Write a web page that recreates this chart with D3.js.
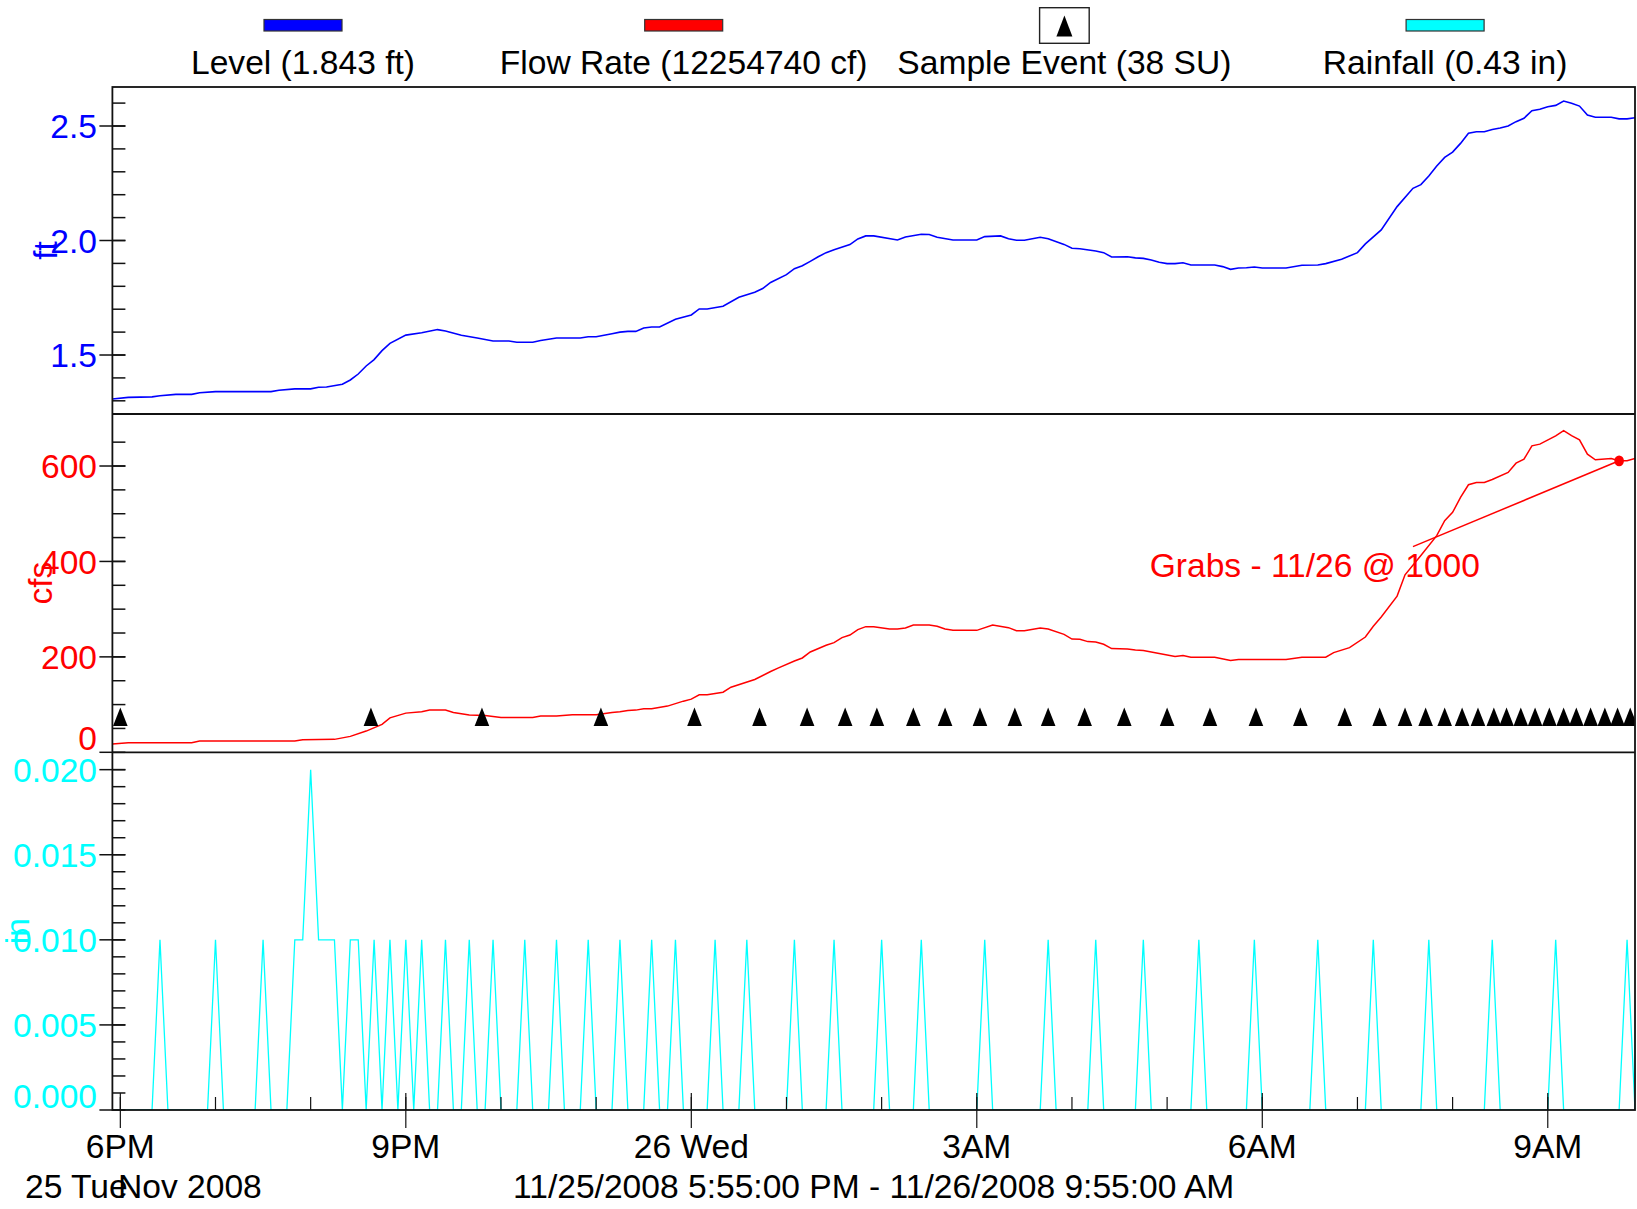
<!DOCTYPE html>
<html><head><meta charset="utf-8">
<script src="https://cdn.jsdelivr.net/npm/d3@7"></script>
<style>
body{margin:0;background:#fff}
text{font-family:"Liberation Sans",Arial,Helvetica,sans-serif}
</style></head>
<body><svg id="c" width="1637" height="1209"></svg>
<script>
// ---------------- DATA ----------------
const startTime = "17:55", endTime = "09:55";
const seriesNames = ["Level (1.843 ft)", "Flow Rate (12254740 cf)", "Sample Event (38 SU)", "Rainfall (0.43 in)"];
const levelData = [
["17:55",1.308],["18:05",1.315],["18:20",1.317],["18:25",1.322],["18:35",1.328],["18:45",1.328],["18:50",1.335],["19:00",1.340],["19:35",1.340],["19:40",1.346],["19:50",1.352],["20:00",1.352],["20:05",1.359],["20:10",1.360],["20:20",1.372],["20:25",1.391],["20:30",1.417],["20:35",1.452],["20:40",1.480],["20:45",1.519],["20:50",1.551],["21:00",1.587],["21:10",1.597],["21:20",1.611],["21:25",1.605],["21:35",1.586],["21:45",1.574],["21:55",1.561],["22:05",1.561],["22:10",1.556],["22:20",1.556],["22:25",1.563],["22:35",1.574],["22:50",1.574],["22:55",1.580],["23:00",1.580],["23:10",1.593],["23:15",1.600],["23:20",1.603],["23:25",1.603],["23:30",1.618],["23:35",1.622],["23:40",1.622],["23:50",1.656],["00:00",1.675],["00:05",1.701],["00:10",1.701],["00:20",1.713],["00:30",1.752],["00:40",1.774],["00:45",1.790],["00:50",1.817],["01:00",1.851],["01:05",1.877],["01:10",1.890],["01:15",1.909],["01:20",1.929],["01:25",1.947],["01:30",1.960],["01:40",1.982],["01:45",2.007],["01:50",2.020],["01:55",2.020],["02:10",2.002],["02:15",2.015],["02:25",2.027],["02:30",2.026],["02:35",2.014],["02:45",2.002],["03:00",2.002],["03:05",2.017],["03:15",2.020],["03:20",2.008],["03:25",2.001],["03:30",2.001],["03:40",2.014],["03:45",2.008],["03:55",1.983],["04:00",1.966],["04:05",1.964],["04:15",1.954],["04:20",1.947],["04:25",1.928],["04:35",1.929],["04:40",1.924],["04:45",1.922],["04:50",1.915],["04:55",1.905],["05:00",1.899],["05:05",1.899],["05:10",1.903],["05:15",1.893],["05:30",1.893],["05:35",1.886],["05:40",1.874],["05:45",1.880],["05:50",1.881],["05:55",1.884],["06:00",1.880],["06:15",1.880],["06:25",1.892],["06:35",1.893],["06:40",1.899],["06:50",1.918],["07:00",1.947],["07:05",1.985],["07:15",2.046],["07:25",2.148],["07:35",2.228],["07:40",2.244],["07:45",2.282],["07:50",2.325],["07:55",2.363],["08:00",2.386],["08:05",2.424],["08:10",2.468],["08:15",2.475],["08:20",2.475],["08:25",2.485],["08:30",2.491],["08:35",2.500],["08:40",2.519],["08:45",2.534],["08:50",2.567],["08:55",2.573],["09:00",2.584],["09:05",2.590],["09:10",2.609],["09:15",2.599],["09:20",2.587],["09:25",2.548],["09:30",2.538],["09:40",2.538],["09:45",2.531],["09:50",2.531],["09:55",2.536]
];
const flowData = [
["17:55",17.3],["18:05",20.1],["18:45",20.0],["18:50",23.6],["19:50",23.6],["19:55",26.4],["20:15",27.1],["20:25",33.4],["20:35",44.5],["20:45",58.5],["20:50",72.3],["21:00",82.1],["21:10",84.8],["21:15",88.4],["21:25",88.4],["21:30",83.6],["21:40",78.0],["21:50",77.3],["22:00",73.1],["22:20",73.1],["22:25",75.9],["22:35",75.9],["22:45",78.6],["23:00",78.6],["23:10",83.6],["23:15",84.8],["23:20",87.8],["23:25",88.4],["23:30",91.1],["23:35",91.1],["23:45",96.8],["23:55",107.2],["00:00",111.4],["00:05",120.4],["00:10",120.4],["00:20",126.0],["00:25",136.5],["00:40",152.6],["00:50",169.3],["00:55",176.8],["01:05",191.4],["01:10",197.7],["01:15",210.2],["01:25",224.2],["01:30",229.9],["01:35",240.3],["01:40",245.8],["01:45",257.0],["01:50",263.3],["01:55",263.3],["02:05",258.3],["02:10",258.3],["02:15",260.4],["02:20",266.7],["02:30",266.7],["02:35",264.0],["02:40",258.3],["02:45",255.6],["03:00",255.6],["03:10",266.7],["03:20",261.2],["03:25",255.0],["03:30",255.0],["03:40",260.4],["03:45",258.3],["03:55",247.2],["04:00",237.4],["04:05",236.8],["04:10",232.0],["04:15",231.1],["04:20",226.3],["04:25",217.3],["04:35",216.5],["04:40",214.4],["04:45",213.2],["04:55",206.9],["05:05",200.6],["05:10",202.7],["05:15",199.2],["05:30",199.2],["05:40",192.3],["05:45",194.4],["06:15",194.4],["06:25",199.2],["06:40",199.2],["06:45",209.0],["06:55",219.4],["07:05",241.6],["07:10",264.0],["07:15",283.4],["07:25",327.3],["07:30",372.0],["07:40",412.3],["07:50",454.1],["07:55",485.5],["08:00",502.8],["08:05",534.2],["08:10",560.7],["08:15",565.5],["08:20",565.5],["08:25",571.8],["08:35",586.4],["08:40",606.0],["08:45",614.4],["08:50",642.2],["08:55",645.8],["09:05",663.1],["09:10",674.2],["09:15",663.7],["09:20",654.8],["09:25",624.9],["09:30",612.9],["09:40",615.7],["09:45",610.9],["09:50",610.9],["09:55",615.7]
];
// rainfall: only non-zero 5-minute readings (all others are 0.000 in)
const rainTimes = ["18:25","19:00","19:30","19:50","19:55","20:00","20:05","20:10","20:15","20:25","20:30","20:40","20:50","21:00","21:10","21:25","21:40","21:55","22:15","22:35","22:55","23:15","23:35","23:50","00:15","00:35","01:05","01:30","02:00","02:25","03:05","03:45","04:15","04:45","05:20","05:55","06:35","07:10","07:45","08:25","09:05","09:50"];
const rainValues = [0.01,0.01,0.01,0.01,0.01,0.02,0.01,0.01,0.01,0.01,0.01,0.01,0.01,0.01,0.01,0.01,0.01,0.01,0.01,0.01,0.01,0.01,0.01,0.01,0.01,0.01,0.01,0.01,0.01,0.01,0.01,0.01,0.01,0.01,0.01,0.01,0.01,0.01,0.01,0.01,0.01,0.01];
const sampleEventTimes = ["18:00","20:38","21:48","23:03","00:02","00:43","01:13","01:37","01:57","02:20","02:40","03:02","03:24","03:45","04:08","04:33","05:00","05:27","05:56","06:24","06:52","07:14","07:30","07:43","07:55","08:06","08:16","08:26","08:34","08:43","08:52","09:01","09:10","09:18","09:27","09:36","09:44","09:52"];
const grabNote = {time:"09:45", value:610.9, lineFromTime:"07:35", lineFromValue:431, labelTime:"04:49", labelValue:367, text:"Grabs - 11/26 @ 1000"};
const levelTicks = [1.5, 2.0, 2.5], levelTickLabels = ["1.5","2.0","2.5"];
const flowTicks = [0, 200, 400, 600], flowTickLabels = ["0","200","400","600"];
const rainTicks = [0, 0.005, 0.010, 0.015, 0.020], rainTickLabels = ["0.000","0.005","0.010","0.015","0.020"];
const xTickLabels = ["6PM","9PM","26 Wed","3AM","6AM","9AM"];
const dayLabel = "25 Tue", monthLabel = "Nov 2008";
const rangeLabel = "11/25/2008 5:55:00 PM - 11/26/2008 9:55:00 AM";

// ---------------- LAYOUT ----------------
const FS = 33.6;
const L = 112.4, R = 1635;
const P = {level:[87,414], flow:[414,752.3], rain:[752.3,1110]};
const COL = {level:"#0000ff", flow:"#ff0000", rain:"#00ffff", frame:"#111"};
const parseT = s => { const [h,m] = s.split(":").map(Number); return new Date(2008, 10, h >= 12 ? 25 : 26, h, m); };

const svg = d3.select("#c");
const x = d3.scaleTime().domain([parseT(startTime), parseT(endTime)]).range([L, R]);
const yL = d3.scaleLinear().domain([1.2424, 2.6703]).range([P.level[1], P.level[0]]);
const yF = d3.scaleLinear().domain([0, 709]).range([P.flow[1], P.flow[0]]);
const yR = d3.scaleLinear().domain([0, 0.02102]).range([P.rain[1], P.rain[0]]);

// rain series at 5-minute steps
const nSteps = Math.round((x.domain()[1] - x.domain()[0]) / 300000);
const rainMap = new Map(rainTimes.map((t,i)=>[+parseT(t), rainValues[i]]));
const rainSeries = d3.range(nSteps + 1).map(i => {
  const t = d3.timeMinute.offset(x.domain()[0], 5*i);
  return [t, rainMap.get(+t) || 0];
});

// clip
svg.append("defs").append("clipPath").attr("id","clip").append("rect")
  .attr("x", L).attr("y", P.level[0]).attr("width", R-L).attr("height", P.rain[1]-P.level[0]);

const g = svg.append("g").attr("clip-path","url(#clip)");
g.append("path").datum(levelData)
  .attr("d", d3.line().x(d=>x(parseT(d[0]))).y(d=>yL(d[1])))
  .attr("fill","none").attr("stroke",COL.level).attr("stroke-width",1.6);
g.append("path").datum(flowData)
  .attr("d", d3.line().x(d=>x(parseT(d[0]))).y(d=>yF(d[1])))
  .attr("fill","none").attr("stroke",COL.flow).attr("stroke-width",1.5);
g.append("path").datum(rainSeries)
  .attr("d", d3.line().x(d=>x(d[0])).y(d=>yR(d[1])))
  .attr("fill","none").attr("stroke",COL.rain).attr("stroke-width",1.3);

// sample events
const evBase = yF(55);
g.selectAll("path.ev").data(sampleEventTimes).join("path").attr("class","ev")
  .attr("transform", d=>`translate(${x(parseT(d))},${evBase})`)
  .attr("d","M0,-18.5L7.3,0L-7.3,0Z").attr("fill","#000");

// grab annotation
const gx = x(parseT(grabNote.time)), gy = yF(grabNote.value);
svg.append("line").attr("x1", x(parseT(grabNote.lineFromTime))).attr("y1", yF(grabNote.lineFromValue))
  .attr("x2", gx).attr("y2", gy).attr("stroke", COL.flow).attr("stroke-width",1.5);
svg.append("ellipse").attr("cx", gx).attr("cy", gy).attr("rx",4.8).attr("ry",5.4).attr("fill",COL.flow);
svg.append("text").attr("x", x(parseT(grabNote.labelTime))).attr("y", yF(grabNote.labelValue))
  .attr("font-size", FS).attr("fill", COL.flow).text(grabNote.text);

// frame
svg.append("rect").attr("x",L).attr("y",P.level[0]).attr("width",R-L).attr("height",P.rain[1]-P.level[0])
  .attr("fill","none").attr("stroke",COL.frame).attr("stroke-width",1.8);
[P.flow[0], P.rain[0]].forEach(yy => svg.append("line").attr("x1",L).attr("x2",R).attr("y1",yy).attr("y2",yy)
  .attr("stroke",COL.frame).attr("stroke-width",1.8));

// y axes
function yAxis(scale, panel, ticks, labels, minor, color, title, titleX) {
  const ax = svg.append("g");
  ax.selectAll("line.mi").data(minor).join("line")
    .attr("x1",L).attr("x2",L+13).attr("y1",d=>scale(d)).attr("y2",d=>scale(d))
    .attr("stroke",COL.frame).attr("stroke-width",1.5);
  ax.selectAll("line.ma").data(ticks).join("line")
    .attr("x1",L-13).attr("x2",L+13).attr("y1",d=>scale(d)).attr("y2",d=>scale(d))
    .attr("stroke",COL.frame).attr("stroke-width",1.5);
  ax.selectAll("text.lb").data(ticks).join("text")
    .attr("x", 97).attr("y", d=>Math.max(panel[0]+14, Math.min(panel[1]-14, scale(d))))
    .attr("dy","0.36em").attr("text-anchor","end").attr("font-size",FS).attr("fill",color)
    .text((d,i)=>labels[i]);
  ax.append("text").attr("transform",`translate(${titleX},${(panel[0]+panel[1])/2}) rotate(-90)`)
    .attr("text-anchor","middle").attr("font-size",FS).attr("fill",color).text(title);
}
yAxis(yL, P.level, levelTicks, levelTickLabels, d3.range(13,27).map(d=>d/10), COL.level, "ft", 57);
yAxis(yF, P.flow, flowTicks, flowTickLabels, d3.range(50,700,50), COL.flow, "cfs", 52);
yAxis(yR, P.rain, rainTicks, rainTickLabels, d3.range(1,21).map(d=>d/1000), COL.rain, "in", 28.5);

// x axis
const majors = d3.timeHour.every(3).range(x.domain()[0], x.domain()[1]);
const minors = d3.timeHour.every(1).range(x.domain()[0], x.domain()[1]);
const xb = P.rain[1];
svg.selectAll("line.xmi").data(minors).join("line")
  .attr("x1",d=>x(d)).attr("x2",d=>x(d)).attr("y1",xb-13).attr("y2",xb)
  .attr("stroke",COL.frame).attr("stroke-width",1.2);
svg.selectAll("line.xma").data(majors).join("line")
  .attr("x1",d=>x(d)).attr("x2",d=>x(d)).attr("y1",xb-17).attr("y2",xb+18)
  .attr("stroke",COL.frame).attr("stroke-width",1.2);
svg.selectAll("text.xl").data(majors).join("text")
  .attr("x",d=>x(d)).attr("y",1158).attr("text-anchor","middle").attr("font-size",FS).attr("fill","#000")
  .text((d,i)=>xTickLabels[i]);
svg.append("text").attr("x",25).attr("y",1198).attr("font-size",FS).text(dayLabel);
svg.append("text").attr("x",118).attr("y",1198).attr("font-size",FS).text(monthLabel);
svg.append("text").attr("x",(L+R)/2).attr("y",1198).attr("text-anchor","middle").attr("font-size",FS).text(rangeLabel);

// legend
const legendColors = [COL.level, COL.flow, null, COL.rain];
seriesNames.forEach((name,i) => {
  const cx = 303 + 380.7*i;
  if (legendColors[i]) {
    svg.append("rect").attr("x",cx-39).attr("y",19.5).attr("width",78).attr("height",11.5)
      .attr("fill",legendColors[i]).attr("stroke","#333").attr("stroke-width",1.2);
  } else {
    svg.append("rect").attr("x",cx-24.8).attr("y",7.7).attr("width",49.6).attr("height",35.6)
      .attr("fill","#fff").attr("stroke","#222").attr("stroke-width",1.4);
    svg.append("path").attr("transform",`translate(${cx},36.5)`).attr("d","M0,-21L8,0L-8,0Z").attr("fill","#000");
  }
  svg.append("text").attr("x",cx).attr("y",74).attr("text-anchor","middle").attr("font-size",FS).attr("fill","#000").text(name);
});
</script>
</body></html>
